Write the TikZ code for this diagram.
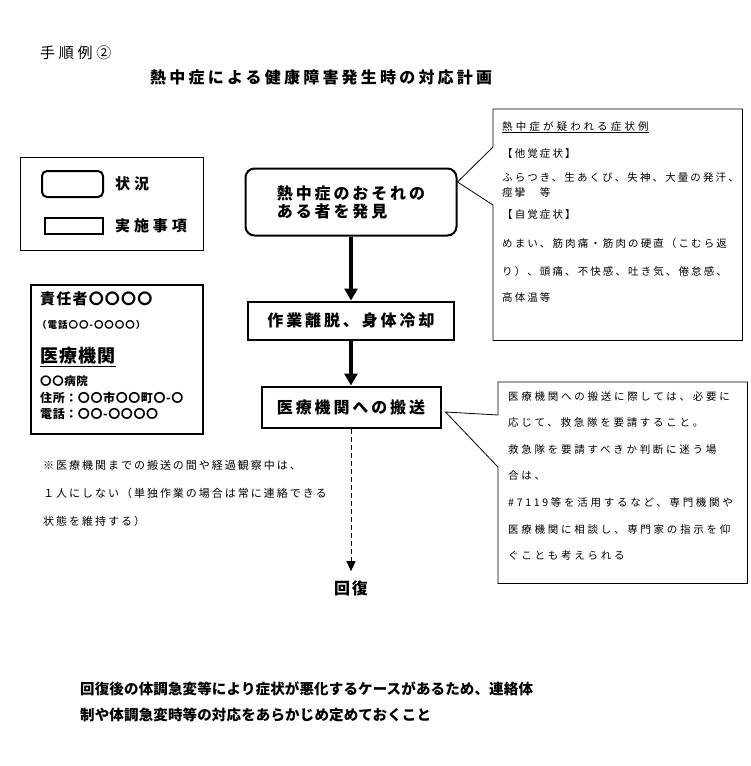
\documentclass[tikz,border=0pt]{standalone}
\usepackage{fontspec}
\setmainfont{Noto Sans CJK JP}
\usetikzlibrary{arrows.meta}
\newcommand\ltsp[1]{\addfontfeature{LetterSpace=#1}}
\newcommand\fsz[2]{\fontsize{#1}{#2}\selectfont}

\begin{document}
\begin{tikzpicture}[x=1pt, y=1pt, node distance=2cm, auto,
    state/.style={draw, line width=2pt, rounded corners=9pt, minimum width=211pt,
      minimum height=67pt, align=left, font=\fsz{16}{18}\bfseries\ltsp{18}},
    action/.style={draw, line width=2pt, font=\fsz{16}{18}\bfseries\ltsp{18}},
    flow/.style={line width=3.5pt, -{Triangle[width=13pt,length=12pt]}},
    dashflow/.style={line width=1pt, dash pattern=on 5pt off 3pt, -{Triangle[width=9pt,length=10pt]}},
    callout/.style={line width=0.8pt},
    memo/.style={anchor=north west, inner sep=0pt, align=left}]
  \useasboundingbox (0,0) rectangle (750,-766);

  \node[anchor=west, inner sep=0pt, font=\fsz{15}{18}\ltsp{25}] (step) at (40,-53) {手順例②};
  \node[anchor=west, inner sep=0pt, font=\fsz{16}{18}\bfseries\ltsp{20}] (title) at (150,-77) {熱中症による健康障害発生時の対応計画};

  % legend
  \node[draw, line width=1.2pt, minimum width=183pt, minimum height=93pt, anchor=north west] (legend) at (20,-157) {};
  \node[draw, line width=2pt, rounded corners=5pt, minimum width=61pt, minimum height=26pt] (legstate) at (72.5,-184) {};
  \node[draw, line width=1.5pt, minimum width=58pt, minimum height=16pt] (legaction) at (74,-226) {};
  \node[anchor=west, inner sep=0pt, font=\fsz{15}{18}\bfseries\ltsp{26}] (legstatetxt) at (115,-184) {状況};
  \node[anchor=west, inner sep=0pt, font=\fsz{15}{18}\bfseries\ltsp{26}] (legactiontxt) at (115,-226) {実施事項};

  % contact
  \node[draw, line width=2pt, minimum width=172pt, minimum height=149pt, anchor=north west] (contact) at (30,-284) {};
  \node[anchor=west, inner sep=0pt, font=\fsz{15}{18}\bfseries\ltsp{8}] (resp) at (40,-299) {責任者〇〇〇〇};
  \node[anchor=west, inner sep=0pt, font=\fsz{9.5}{12}\bfseries\ltsp{10}] (resptel) at (37,-325) {（電話〇〇-〇〇〇〇）};
  \node[anchor=west, inner sep=0pt, font=\fsz{18}{20}\bfseries\ltsp{7}] (hosp) at (40,-357) {\underline{医療機関}};
  \node[anchor=west, inner sep=0pt, font=\fsz{11.5}{14}\bfseries\ltsp{5}] (hospname) at (40,-381) {〇〇病院};
  \node[anchor=west, inner sep=0pt, font=\fsz{12}{14}\bfseries\ltsp{5}] (hospaddr) at (40,-398) {住所：〇〇市〇〇町〇-〇};
  \node[anchor=west, inner sep=0pt, font=\fsz{12}{14}\bfseries\ltsp{5}] (hosptel) at (40,-414) {電話：〇〇-〇〇〇〇};

  % flow
  \node[state] (find) at (351,-202) {熱中症のおそれの\\ある者を発見};
  \node[action, minimum width=206pt, minimum height=38pt] (cool) [node distance=118.5pt, below of=find] {作業離脱、身体冷却};
  \node[action, minimum width=179pt, minimum height=41pt] (transport) [node distance=86.5pt, below of=cool] {医療機関への搬送};
  \node[font=\fsz{16}{18}\bfseries\ltsp{10}, inner sep=0pt] (recover) [node distance=181pt, below of=transport] {回復};
  \draw[flow] (find) -- (cool);
  \draw[flow] (cool) -- (transport);
  \draw[dashflow] (transport) -- ([yshift=9pt]recover.north);

  % callouts
  \node[minimum width=249pt, minimum height=231pt, anchor=north west] (symbox) at (493,-109) {};
  \coordinate (s1) at (493,-147);
  \coordinate (s2) at (493,-205);
  \draw[callout] (s1) -- (symbox.north west) -- (symbox.north east) -- (symbox.south east)
    -- (symbox.south west) -- (s2) -- ([yshift=20pt]find.east) -- cycle;
  \node[memo, font=\fsz{10.5}{27}\ltsp{20}] (symtxt) at (502,-121) {{\ltsp{30}\underline{熱中症が疑われる症状例}}\\
    【他覚症状】\\[-3pt]
    ふらつき、生あくび、失神、大量の発汗、\\[-12pt]
    痙攣　等\\[-5pt]
    【自覚症状】\\[2pt]
    めまい、筋肉痛・筋肉の硬直（こむら返\\[1pt]
    り）、頭痛、不快感、吐き気、倦怠感、\\[-1pt]
    高体温等};

  \node[minimum width=249pt, minimum height=201pt, anchor=north west] (callbox) at (498,-382) {};
  \coordinate (c1) at (498,-415);
  \coordinate (c2) at (498,-467);
  \draw[callout] (c1) -- (callbox.north west) -- (callbox.north east) -- (callbox.south east)
    -- (callbox.south west) -- (c2) -- ([xshift=4pt,yshift=-5pt]transport.east) -- cycle;
  \node[memo, font=\fsz{10.5}{26.6}\ltsp{26}] (calltxt) at (508,-391) {医療機関への搬送に際しては、必要に\\
    応じて、救急隊を要請すること。\\
    救急隊を要請すべきか判断に迷う場\\
    合は、\\
    \#7119等を活用するなど、専門機関や\\
    医療機関に相談し、専門家の指示を仰\\
    ぐことも考えられる};

  \node[anchor=west, align=left, inner sep=0pt, font=\fsz{11}{28}\ltsp{18}] (watch) at (43,-493) {※医療機関までの搬送の間や経過観察中は、\\
    １人にしない（単独作業の場合は常に連絡できる\\
    状態を維持する）};

  \node[anchor=west, align=left, inner sep=0pt, font=\fsz{14.5}{26}\bfseries\ltsp{1}] (after) at (80,-702) {回復後の体調急変等により症状が悪化するケースがあるため、連絡体\\
    制や体調急変時等の対応をあらかじめ定めておくこと};
\end{tikzpicture}
\end{document}
